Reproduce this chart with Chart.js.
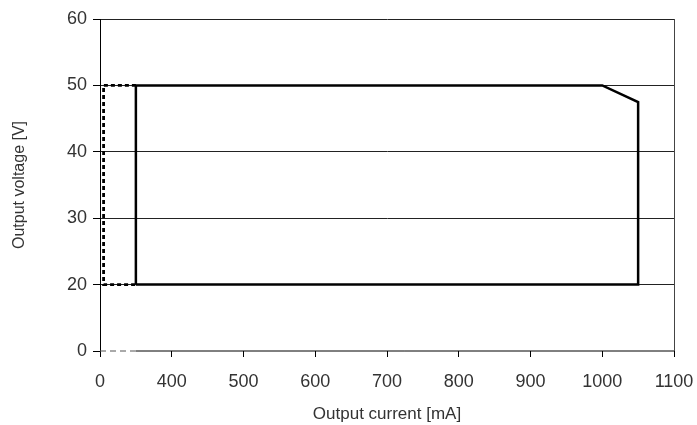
<!DOCTYPE html>
<html>
<head>
<meta charset="utf-8">
<script src="https://cdn.jsdelivr.net/npm/chart.js@4/dist/chart.umd.min.js"></script>
<style>
  html, body { margin: 0; padding: 0; background: #fff; }
  #wrap { width: 697px; height: 425px; }
</style>
</head>
<body>
<div id="wrap"><canvas id="grafico"></canvas></div>
<script>
// Broken axes: x tick 300 is shown as "0", y tick 10 is shown as "0"
var outlineX = [350, 350, 1000, 1050, 1050, 350];
var outlineY = [20, 50, 50, 47.5, 20, 20];

var dottedX = [350, 305, 305, 350];
var dottedY = [50, 50, 20, 20];

var baseDashX = [300, 350];
var baseSolidX = [350, 1100];
var baseY = [10, 10];

var xTicks = [300, 400, 500, 600, 700, 800, 900, 1000, 1100];
var xLabels = ['0', '400', '500', '600', '700', '800', '900', '1000', '1100'];
var yTicks = [10, 20, 30, 40, 50, 60];
var yLabels = ['0', '20', '30', '40', '50', '60'];

var toPoints = function(xs, ys) {
    return xs.map(function(x, i) { return { x: x, y: ys[i] }; });
};

var labelFor = function(ticks, labels, v) {
    var i = ticks.indexOf(v);
    return i >= 0 ? labels[i] : '';
};

var fontFamily = "'Liberation Sans', Arial, sans-serif";

var lineSet = function(points, color, width, dash) {
    return {
        data: points,
        borderColor: color,
        borderWidth: width,
        borderDash: dash,
        pointRadius: 0,
        fill: false,
        tension: 0,
        clip: false
    };
};

var context = document.getElementById('grafico').getContext('2d');
var chart = new Chart(context, {
    type: 'line',
    data: {
        datasets: [
            lineSet(toPoints(baseDashX, baseY), '#555', 1, [6, 4]),
            lineSet(toPoints(baseSolidX, baseY), '#000', 1, []),
            lineSet(toPoints(dottedX, dottedY), '#000', 2.8, [4, 3]),
            lineSet(toPoints(outlineX, outlineY), '#000', 2.5, [])
        ]
    },
    options: {
        responsive: true,
        maintainAspectRatio: false,
        animation: false,
        layout: { padding: { top: 19, right: 23, left: 10, bottom: 0 } },
        plugins: {
            legend: { display: false },
            tooltip: { enabled: false }
        },
        scales: {
            x: {
                type: 'linear',
                min: 300,
                max: 1100,
                afterFit: function(scale) {
                    scale.height = 74;
                    scale.paddingLeft = 0;
                    scale.paddingRight = 0;
                },
                afterBuildTicks: function(scale) {
                    scale.ticks = xTicks.map(function(v) { return { value: v }; });
                },
                ticks: {
                    callback: function(v) { return labelFor(xTicks, xLabels, v); },
                    color: '#333',
                    font: { family: fontFamily, size: 18 },
                    padding: 14,
                    maxRotation: 0
                },
                grid: {
                    color: function(ctx) {
                        return ctx.tick && ctx.tick.value === 1100 ? '#444' : 'rgba(0,0,0,0)';
                    },
                    tickColor: '#000',
                    tickLength: 6,
                    lineWidth: 1
                },
                border: { display: false },
                title: {
                    display: true,
                    text: 'Output current [mA]',
                    color: '#333',
                    font: { family: fontFamily, size: 17 },
                    padding: { top: 2, bottom: 0 }
                }
            },
            y: {
                type: 'linear',
                min: 10,
                max: 60,
                afterFit: function(scale) {
                    scale.width = 90;
                    scale.paddingTop = 0;
                    scale.paddingBottom = 0;
                },
                afterBuildTicks: function(scale) {
                    scale.ticks = yTicks.map(function(v) { return { value: v }; });
                },
                ticks: {
                    callback: function(v) { return labelFor(yTicks, yLabels, v); },
                    color: '#333',
                    font: { family: fontFamily, size: 18 },
                    padding: 6
                },
                grid: {
                    color: function(ctx) {
                        return ctx.tick && ctx.tick.value === 10 ? 'rgba(0,0,0,0)' : '#222';
                    },
                    tickColor: '#000',
                    tickLength: 7,
                    lineWidth: 1
                },
                border: { display: true, color: '#000', width: 1 },
                title: {
                    display: true,
                    text: 'Output voltage [V]',
                    color: '#333',
                    font: { family: fontFamily, size: 16 },
                    padding: { top: 0, bottom: 4 }
                }
            }
        }
    }
});
</script>
</body>
</html>
